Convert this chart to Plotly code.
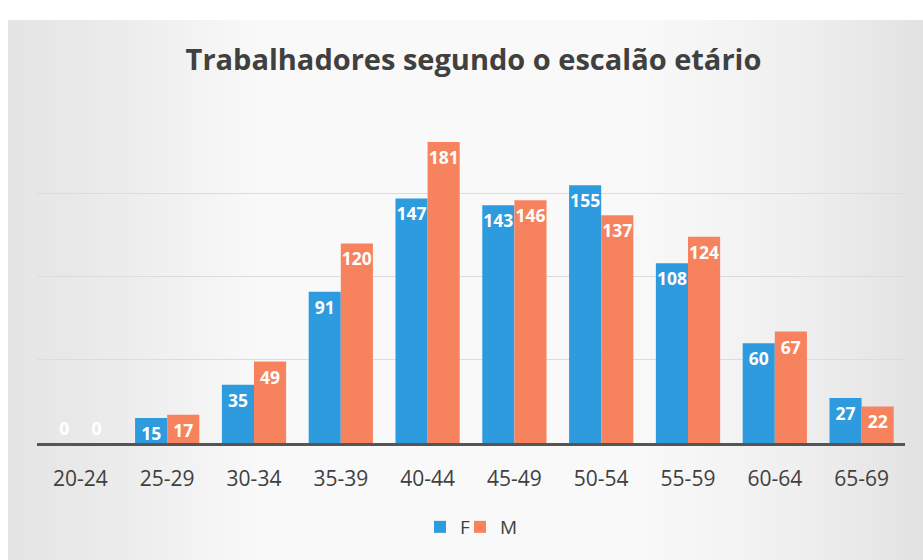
import plotly.graph_objects as go

categories = ["20-24", "25-29", "30-34", "35-39", "40-44", "45-49", "50-54", "55-59", "60-64", "65-69"]
f_values = [0, 15, 35, 91, 147, 143, 155, 108, 60, 27]
m_values = [0, 17, 49, 120, 181, 146, 137, 124, 67, 22]

title_text = "Trabalhadores segundo o escalão etário"
font_family = "Open Sans"
blue = "#2D9BDE"
orange = "#F7835E"

# background shading stops (pixel x, gray level) - styling only
bg_stops = [(8, 228), (120, 236), (260, 249), (640, 249), (800, 239), (923, 226)]

L, R, T, B = 37, 18, 112, 117
W, H = 923, 560
PW, PH = W - L - R, H - T - B


def px_to_paper_x(px):
    return (px - L) / PW


def px_to_paper_y(py):
    return (H - B - py) / PH


def positions(vals):
    return ["outside" if v == 0 else "inside" for v in vals]


fig = go.Figure()
for name, vals, color, leg in [("F", f_values, blue, "legend"), ("M", m_values, orange, "legend2")]:
    fig.add_trace(go.Bar(
        name=name, x=categories, y=vals, marker_color=color,
        marker_line_width=0,
        text=[str(v) for v in vals],
        textposition=positions(vals),
        insidetextanchor="end",
        textangle=0,
        constraintext="none",
        textfont=dict(family=font_family, size=17.5, color="white", weight="bold"),
        cliponaxis=False,
        legend=leg,
    ))

shapes = [
    dict(type="rect", xref="paper", yref="paper", x0=-0.1, x1=1.1,
         y0=px_to_paper_y(20), y1=px_to_paper_y(-10),
         fillcolor="white", line_width=0, layer="below"),
    dict(type="rect", xref="paper", yref="paper", x0=-0.1, x1=px_to_paper_x(8),
         y0=px_to_paper_y(570), y1=px_to_paper_y(-10),
         fillcolor="white", line_width=0, layer="below"),
]
step = 6
x = 8
while x < W:
    g = None
    for (xa, ga), (xb, gb) in zip(bg_stops[:-1], bg_stops[1:]):
        if xa <= x + step / 2 <= xb:
            t = (x + step / 2 - xa) / (xb - xa)
            g = round(ga + (gb - ga) * t)
            break
    if g is None:
        g = bg_stops[-1][1]
    shapes.append(dict(type="rect", xref="paper", yref="paper",
                       x0=px_to_paper_x(x), x1=px_to_paper_x(x + step + 0.5),
                       y0=px_to_paper_y(570), y1=px_to_paper_y(20),
                       fillcolor=f"rgb({g},{g},{g})", line_width=0, layer="below"))
    x += step

legend_style = dict(orientation="h", xanchor="left", y=px_to_paper_y(527), yanchor="middle",
                    font=dict(family=font_family, size=19, color="#404040"),
                    bgcolor="rgba(0,0,0,0)", itemwidth=30)

fig.update_layout(
    width=W, height=H,
    margin=dict(l=L, r=R, t=T, b=B),
    paper_bgcolor="white",
    plot_bgcolor="rgba(0,0,0,0)",
    barmode="group", bargap=0.26, bargroupgap=0,
    uniformtext=dict(minsize=17.5, mode="show"),
    title=dict(text=title_text, x=0.513, xanchor="center", y=0.893, yanchor="middle",
               yref="container",
               font=dict(family=font_family, size=29, color="#404040", weight="bold")),
    legend=dict(x=px_to_paper_x(420), **legend_style),
    legend2=dict(x=px_to_paper_x(460), **legend_style),
    showlegend=True,
    xaxis=dict(showline=True, linecolor="#555555", linewidth=3, ticks="",
               tickfont=dict(family=font_family, size=21, color="#404040"),
               ticklabelstandoff=15, showgrid=False),
    yaxis=dict(range=[0, 199], dtick=50, showticklabels=False, showgrid=True,
               gridcolor="#DCDCDC", gridwidth=1, zeroline=False, showline=False),
    shapes=shapes,
)

fig.write_html("out.html", config={"displayModeBar": False},
               post_script="document.body.style.margin='0';")
